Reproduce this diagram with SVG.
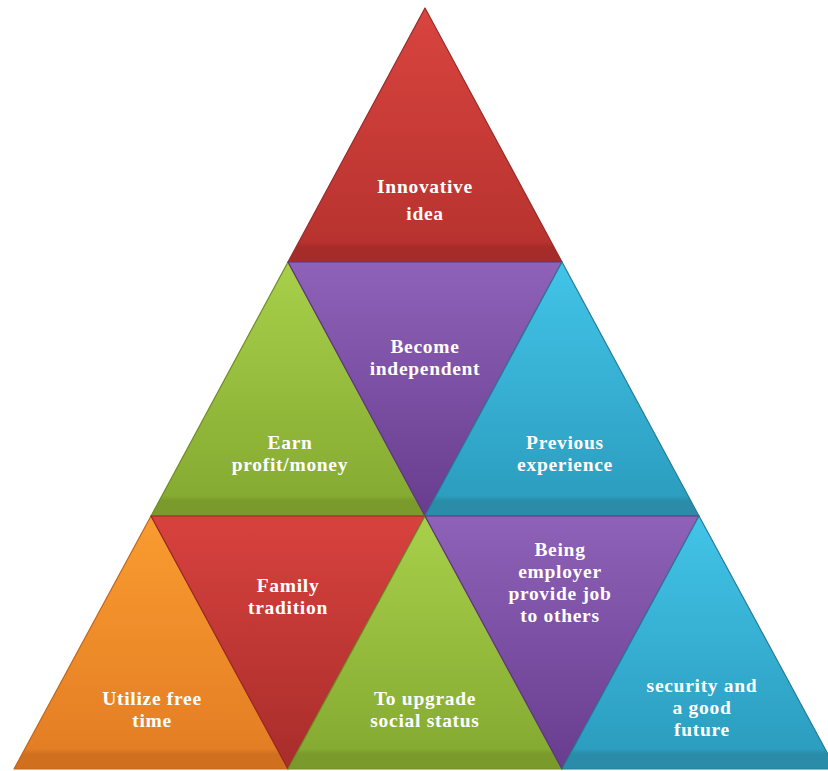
<svg xmlns="http://www.w3.org/2000/svg" width="828" height="771" viewBox="0 0 828 771">
<defs>
<linearGradient id="gRed" x1="0" y1="0" x2="0" y2="1"><stop offset="0" stop-color="#d9443f"/><stop offset="0.92" stop-color="#b8332f"/><stop offset="0.94" stop-color="#a62c2a"/><stop offset="1" stop-color="#a62c2a"/></linearGradient>
<linearGradient id="gRedD" x1="0" y1="0" x2="0" y2="1"><stop offset="0" stop-color="#d8423e"/><stop offset="1" stop-color="#a82d2b"/></linearGradient>
<linearGradient id="gPurD" x1="0" y1="0" x2="0" y2="1"><stop offset="0" stop-color="#8e62b8"/><stop offset="1" stop-color="#683c8e"/></linearGradient>
<linearGradient id="gGreen" x1="0" y1="0" x2="0" y2="1"><stop offset="0" stop-color="#a8d04a"/><stop offset="0.92" stop-color="#86ab32"/><stop offset="0.94" stop-color="#7a9a2c"/><stop offset="1" stop-color="#7a9a2c"/></linearGradient>
<linearGradient id="gCyan" x1="0" y1="0" x2="0" y2="1"><stop offset="0" stop-color="#42c4e8"/><stop offset="0.92" stop-color="#2c9ec0"/><stop offset="0.94" stop-color="#2a8ca9"/><stop offset="1" stop-color="#2a8ca9"/></linearGradient>
<linearGradient id="gOrange" x1="0" y1="0" x2="0" y2="1"><stop offset="0" stop-color="#fa9c30"/><stop offset="0.92" stop-color="#e47e24"/><stop offset="0.94" stop-color="#d0701f"/><stop offset="1" stop-color="#d0701f"/></linearGradient>
<style>
.t{font-family:"Liberation Serif","Times New Roman",serif;font-weight:bold;font-size:19.5px;letter-spacing:0.7px;fill:#ffffff;text-anchor:middle}
.s{stroke-width:1.2;stroke-linejoin:round}
</style>
</defs>
<rect width="828" height="771" fill="#ffffff"/>
<g id="innovative">
<polygon class="s" points="425,8 562,262 288,262" fill="url(#gRed)" stroke="#9a2a28"/>
<text class="t" x="425" y="193">Innovative</text>
<text class="t" x="425" y="220">idea</text>
</g>
<g id="earn">
<polygon class="s" points="288,262 425,516 151,516" fill="url(#gGreen)" stroke="#6e8c26"/>
<text class="t" x="290" y="449">Earn</text>
<text class="t" x="290" y="471">profit/money</text>
</g>
<g id="become">
<polygon class="s" points="288,262 562,262 425,516" fill="url(#gPurD)" stroke="#5e367f"/>
<text class="t" x="425" y="352.5">Become</text>
<text class="t" x="425" y="374.5">independent</text>
</g>
<g id="previous">
<polygon class="s" points="562,262 699,516 425,516" fill="url(#gCyan)" stroke="#237d99"/>
<text class="t" x="565" y="449">Previous</text>
<text class="t" x="565" y="471">experience</text>
</g>
<g id="utilize">
<polygon class="s" points="151,516 288,769 14,769" fill="url(#gOrange)" stroke="#c0661c"/>
<text class="t" x="152" y="704.5">Utilize free</text>
<text class="t" x="152" y="726.5">time</text>
</g>
<g id="family">
<polygon class="s" points="151,516 425,516 288,769" fill="url(#gRedD)" stroke="#962826"/>
<text class="t" x="288" y="591.5">Family</text>
<text class="t" x="288" y="613.5">tradition</text>
</g>
<g id="upgrade">
<polygon class="s" points="425,516 562,769 288,769" fill="url(#gGreen)" stroke="#6e8c26"/>
<text class="t" x="425" y="704.5">To upgrade</text>
<text class="t" x="425" y="726.5">social status</text>
</g>
<g id="being">
<polygon class="s" points="425,516 699,516 562,769" fill="url(#gPurD)" stroke="#5e367f"/>
<text class="t" x="560" y="555.5">Being</text>
<text class="t" x="560" y="577.5">employer</text>
<text class="t" x="560" y="599.5">provide job</text>
<text class="t" x="560" y="621.5">to others</text>
</g>
<g id="security">
<polygon class="s" points="699,516 836,769 562,769" fill="url(#gCyan)" stroke="#237d99"/>
<text class="t" x="702" y="692">security and</text>
<text class="t" x="702" y="714">a good</text>
<text class="t" x="702" y="736">future</text>
</g>
<g id="connectors"/>
</svg>
